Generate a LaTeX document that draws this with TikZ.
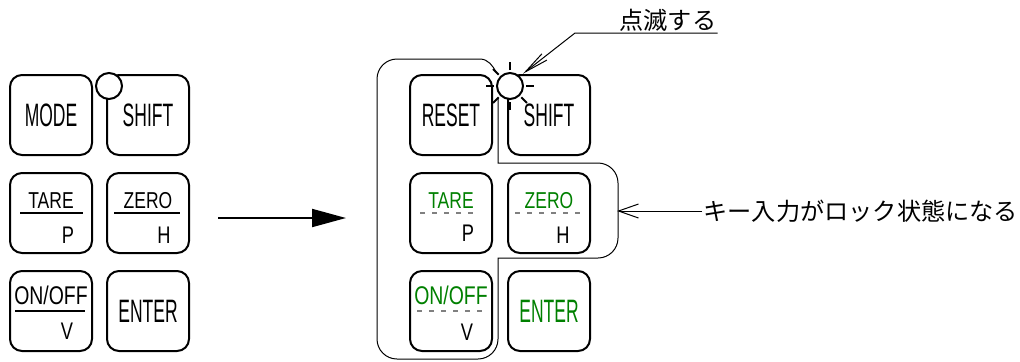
\documentclass[tikz,border=0pt]{standalone}
\usepackage{fontspec}
\setmainfont{Liberation Sans}
\newfontfamily\keyfont[FakeStretch=0.54]{Liberation Sans}
\newfontfamily\subfont[FakeStretch=0.76]{Liberation Sans}
\newfontfamily\jpfont{Noto Sans CJK JP}
\usepackage{xcolor}
\definecolor{keyGreen}{HTML}{008000}
\definecolor{dashGray}{HTML}{808080}
\usetikzlibrary{arrows.meta, positioning}

\begin{document}
\begin{tikzpicture}[
		x=0.5pt, y=-0.5pt,
		node distance=8pt and 6.5pt,
		key/.style={
			draw,
			line width=1pt,
			rounded corners=6pt,
			minimum width=41pt,
			minimum height=40pt,
			inner sep=0pt,
			font=\keyfont\fontsize{16.2}{17}\selectfont
		},
		labeltop/.style={inner sep=0pt, font=\subfont\fontsize{11.5}{12}\selectfont},
		labelsub/.style={inner sep=0pt, font=\subfont\fontsize{12}{13}\selectfont},
		lamp/.style={circle, draw, line width=1pt, fill=white, minimum size=13pt, inner sep=0pt},
		keyrule/.style={line width=0.6pt},
		dashrule/.style={dashGray, line width=0.6pt, dash pattern=on 2.5pt off 3.5pt},
		lockframe/.style={line width=0.5pt},
		blinkarrow/.style={line width=0.5pt, -{Straight Barb[length=12pt,width=4pt]}},
		lockarrow/.style={line width=0.5pt, -{Straight Barb[length=10pt,width=7pt]}},
		bigarrow/.style={line width=1pt, -{Triangle[length=17pt,width=9pt]}},
		note/.style={inner sep=0.5pt, font=\jpfont\fontsize{12.1}{13}\selectfont}
		]
		\useasboundingbox (0,0) rectangle (1020,361);
		
		% before
		\node[key] (modeL) at (51,115) {MODE};
		\node[key, right=of modeL] (shiftL) {SHIFT};
		\node[key, below=of modeL] (tareL) {};
		\node[key, right=of tareL] (zeroL) {};
		\node[key, below=of tareL] (onoffL) {};
		\node[key, right=of onoffL] (enterL) {ENTER};
		
		\node[labeltop] (tareLt) at ([yshift=6pt]tareL.center) {TARE};
		\node[labelsub] (tareLs) at ([xshift=8.5pt,yshift=-11pt]tareL.center) {P};
		\draw[keyrule] ([xshift=-15.5pt]tareL.center) -- ([xshift=16pt]tareL.center);
		\node[labeltop] (zeroLt) at ([yshift=6pt]zeroL.center) {ZERO};
		\node[labelsub] (zeroLs) at ([xshift=8pt,yshift=-11pt]zeroL.center) {H};
		\draw[keyrule] ([xshift=-17pt]zeroL.center) -- ([xshift=16pt]zeroL.center);
		\node[labeltop, font=\subfont\fontsize{12.8}{13}\selectfont] (onoffLt) at ([yshift=8pt]onoffL.center) {ON/OFF};
		\node[labelsub] (onoffLs) at ([xshift=8pt,yshift=-10pt]onoffL.center) {V};
		\draw[keyrule] ([xshift=-18pt]onoffL.center) -- ([xshift=17pt]onoffL.center);
		
		\node[lamp] (lampL) at ([xshift=1.5pt,yshift=-6pt]shiftL.north west) {};
		
		% after
		\node[key] (resetR) at (451,115) {RESET};
		\node[key, right=7pt of resetR] (shiftR) {SHIFT};
		\node[key, below=of resetR] (tareR) {};
		\node[key, right=7pt of tareR] (zeroR) {};
		\node[key, below=of tareR] (onoffR) {};
		\node[key, right=7pt of onoffR, text=keyGreen] (enterR) {ENTER};
		
		\node[labeltop, text=keyGreen] (tareRt) at ([yshift=6pt]tareR.center) {TARE};
		\node[labelsub] (tareRs) at ([xshift=8.5pt,yshift=-10pt]tareR.center) {P};
		\draw[dashrule] ([xshift=-15.5pt]tareR.center) -- ([xshift=14pt]tareR.center);
		\node[labeltop, text=keyGreen] (zeroRt) at ([yshift=6pt]zeroR.center) {ZERO};
		\node[labelsub] (zeroRs) at ([xshift=7pt,yshift=-11pt]zeroR.center) {H};
		\draw[dashrule] ([xshift=-17pt]zeroR.center) -- ([xshift=15.5pt]zeroR.center);
		\node[labeltop, text=keyGreen, font=\subfont\fontsize{12.8}{13}\selectfont] (onoffRt) at ([yshift=8pt]onoffR.center) {ON/OFF};
		\node[labelsub] (onoffRs) at ([xshift=8pt,yshift=-10.5pt]onoffR.center) {V};
		\draw[dashrule] ([xshift=-17pt]onoffR.center) -- ([xshift=17.5pt]onoffR.center);
		
		\draw[lockframe] (496,72) .. controls (493,66) and (488,59) .. (480,59)
			[rounded corners=10pt] -- (377,59) -- (377,359) -- (498,359)
			[sharp corners] -- (498,258)
			[rounded corners=10pt] -- (618,258) -- (618,163)
			[sharp corners] -- (498,163) -- (498,98);
		
		\node[lamp] (lampR) at ([xshift=1.5pt,yshift=-6pt]shiftR.north west) {};
		\foreach \a in {0,45,...,270}
			\draw[line width=1pt] ([shift={(\a:16)}]lampR.center) -- ([shift={(\a:24)}]lampR.center);
		
		\draw[bigarrow] ([xshift=14pt,yshift=-2.5pt]zeroL.east) -- ([xshift=-31.5pt,yshift=-2.5pt]tareR.west);
		
		\node[note, anchor=south west] (blinkText) at (618,33) {点滅する};
		\coordinate (blinkbend) at ([xshift=-21.5pt]blinkText.south west);
		\draw[blinkarrow, shorten >=2pt] (blinkText.south east) -- (blinkbend) -- (lampR.north east);
		
		\node[note, anchor=west] (lockText) at (702,211) {キー入力がロック状態になる};
		\coordinate (lockedge) at (617,211);
		\draw[lockarrow] (lockText.west) -- (lockedge);
		
	\end{tikzpicture}
\end{document}
